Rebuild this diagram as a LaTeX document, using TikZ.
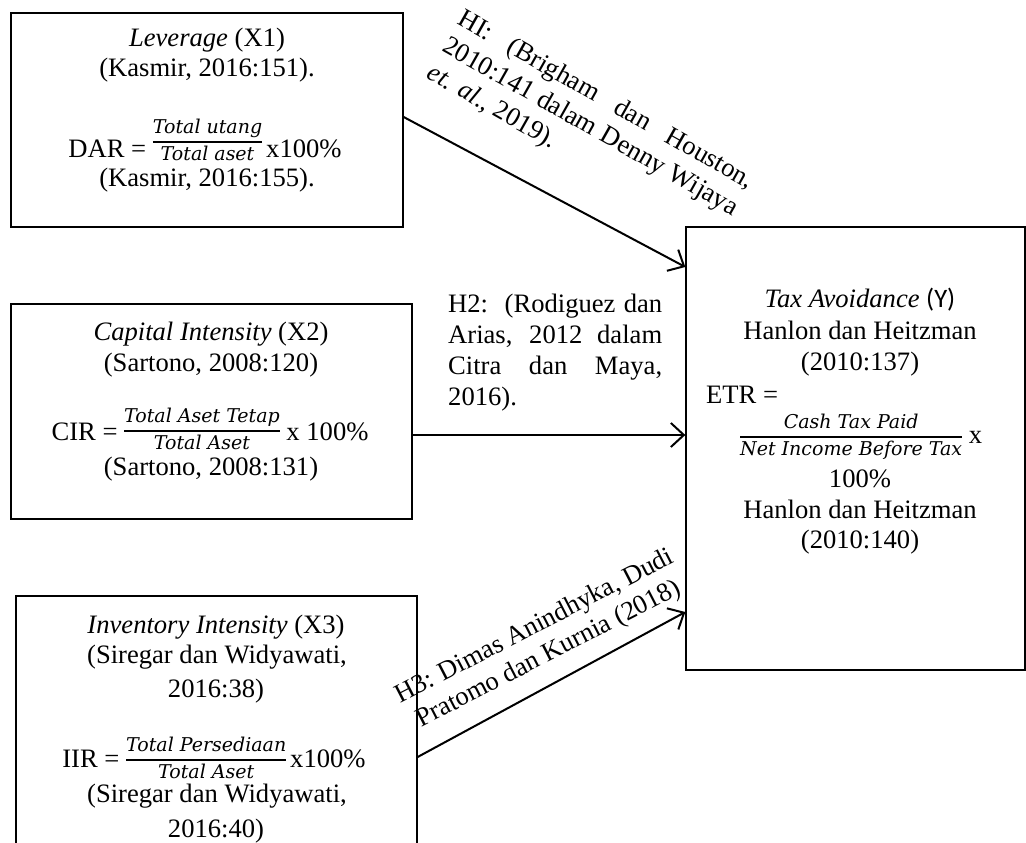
\documentclass[tikz,border=0pt]{standalone}
\usepackage{fontspec}
\setmainfont{Liberation Serif}
\newfontfamily\carlito{Carlito}
\newfontfamily\djv{DejaVu Serif}
\usetikzlibrary{arrows.meta}
\newcommand\fracsz{\fontsize{19}{21}\selectfont\djv\itshape}
\newcommand\myfrac[3][3pt]{\raisebox{#1}{$\vcenter{\offinterlineskip\halign{\hfil##\hfil\cr\fracsz\vrule height 12pt depth 8pt width 0pt #2\cr\noalign{\hrule height 1.5pt}\fracsz\vrule height 18pt depth 2pt width 0pt #3\cr}}$}}
\tikzset{
  t/.style={font=\fontsize{26.6}{31}\selectfont, inner sep=0pt, anchor=base},
  box/.style={draw, line width=1.3pt, inner sep=0pt},
  arr/.style={line width=2pt, -{Straight Barb[length=13pt,width=24pt]}}
}
\begin{document}
\begin{tikzpicture}[x=1pt,y=-1pt]
\useasboundingbox (0,0) rectangle (1026,843);
\clip (0,0) rectangle (1026,843);
% boxes
\node[box, minimum width=392pt, minimum height=214pt] (b1) at (207,120) {};
\node[box, minimum width=401pt, minimum height=215pt] (b2) at (211.5,411.5) {};
\node[box, minimum width=401pt, minimum height=260pt] (b3) at (216.5,726) {};
\node[box, minimum width=339pt, minimum height=443pt] (yb) at (855.5,448.5) {};
% box 1 text
\node[t] (l1a) at (207,47) {\textit{Leverage} (X1)};
\node[t] (l1b) at (207,77) {(Kasmir, 2016:151).};
\node[t] (f1) at (205,157) {DAR =~\myfrac[10pt]{Total utang}{Total aset}\hspace{4pt}x100\%};
\node[t] (l1c) at (207,186) {(Kasmir, 2016:155).};
% box 2 text
\node[t] (l2a) at (211,340) {\textit{Capital Intensity} (X2)};
\node[t] (l2b) at (211,371) {(Sartono, 2008:120)};
\node[t] (f2) at (210,440) {CIR =~\myfrac[4pt]{Total Aset Tetap}{Total Aset} x 100\%};
\node[t] (l2c) at (211,475) {(Sartono, 2008:131)};
% box 3 text
\node[t] (l3a) at (216,633) {\textit{Inventory Intensity} (X3)};
\node[t] (l3b) at (217,663) {(Siregar dan Widyawati,};
\node[t] (l3c) at (216,697) {2016:38)};
\node[t] (f3) at (214,767) {IIR =~\myfrac[2pt]{Total Persediaan}{Total Aset}\hspace{4pt}x100\%};
\node[t] (l3d) at (217,802) {(Siregar dan Widyawati,};
\node[t] (l3e) at (216,837) {2016:40)};
% right box text
\node[t] (y1) at (860,307) {\textit{Tax Avoidance} {\carlito (Y)}};
\node[t] (y2) at (860,339) {Hanlon dan Heitzman};
\node[t] (y3) at (860,370) {(2010:137)};
\node[t, anchor=base west] (y4) at (706,403) {ETR =};
\node[t, anchor=base west] (y5) at (740,443) {\myfrac[0pt]{Cash Tax Paid}{Net Income Before Tax} x};
\node[t] (y6) at (860,487) {100\%};
\node[t] (y7) at (860,518) {Hanlon dan Heitzman};
\node[t] (y8) at (860,548) {(2010:140)};
% arrows
\draw[arr] ([yshift=3pt]b1.east) -- ([yshift=181.5pt]yb.west);
\draw[arr] ([yshift=-23.5pt]b2.east) -- ([yshift=13.5pt]yb.west);
\draw[arr] ([yshift=-31pt]b3.east) -- ([yshift=-163.5pt]yb.west);
% labels
\node[t, anchor=center, rotate=-29.5, align=left] (h1) at (590,128)
  {\makebox[335pt][s]{HI: (Brigham dan Houston,}\strut\\
   \makebox[335pt][s]{2010:141 dalam Denny Wijaya}\strut\\
   \textit{et. al.}, 2019).\strut};
\node[t, anchor=north west, align=left] (h2) at (448,290.3)
  {\makebox[214pt][s]{H2:\ \ (Rodiguez dan}\strut\\
   \makebox[214pt][s]{Arias, 2012 dalam}\strut\\
   \makebox[214pt][s]{Citra dan Maya,}\strut\\
   2016).\strut};
\node[t, anchor=center, rotate=27.3, align=center] (h3) at (542,641)
  {H3: Dimas Anindhyka, Dudi\strut\\
   Pratomo dan Kurnia (2018)\strut};
\end{tikzpicture}
\end{document}
